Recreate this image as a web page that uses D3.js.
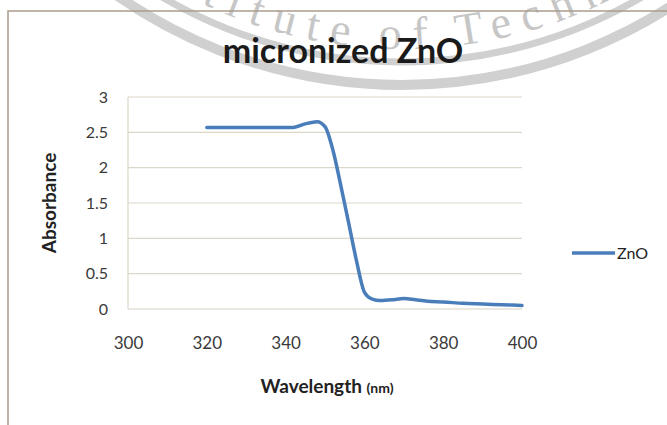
<!DOCTYPE html>
<html>
<head>
<meta charset="utf-8">
<script src="https://cdn.jsdelivr.net/npm/d3@7"></script>
<style>
  html, body { margin: 0; padding: 0; background: #ffffff; }
  svg { display: block; }
</style>
</head>
<body>
<svg id="chart" width="667" height="425"></svg>
<script>
// UV-Vis absorbance spectrum of micronized ZnO
const wavelength = [320, 330, 340, 342, 345, 348, 350, 352, 354, 356, 358, 360, 362, 364, 367, 370, 373, 376, 380, 385, 390, 395, 400];
const absorbance = [2.57, 2.57, 2.57, 2.57, 2.62, 2.65, 2.58, 2.25, 1.75, 1.22, 0.68, 0.24, 0.14, 0.12, 0.13, 0.15, 0.13, 0.11, 0.10, 0.08, 0.07, 0.06, 0.05];
const xTicks = [300, 320, 340, 360, 380, 400];
const yTicks = [0, 0.5, 1, 1.5, 2, 2.5, 3];
const seriesName = "ZnO";
const chartTitle = "micronized ZnO";
const xTitle = "Wavelength";
const xUnit = "(nm)";
const yTitle = "Absorbance";
const sealText = "Institute of Technology";

const svg = d3.select("#chart");
const font = "Lato, 'Open Sans', sans-serif";

const plot = { left: 128, right: 522, top: 97, bottom: 309 };
const x = d3.scaleLinear().domain([300, 400]).range([plot.left, plot.right]);
const y = d3.scaleLinear().domain([0, 3]).range([plot.bottom, plot.top]);

// faint circular seal in the background
const seal = { cx: 402, cy: -413 };
const wm = svg.append("g").attr("class", "seal");
[{ r: 498, w: 10 }, { r: 475, w: 7 }].forEach(b => {
  wm.append("circle")
    .attr("cx", seal.cx).attr("cy", seal.cy).attr("r", b.r)
    .attr("fill", "none").attr("stroke", "#d0d0d0").attr("stroke-width", b.w);
});
const rText = 462;
const a0 = 170 * Math.PI / 180, a1 = 10 * Math.PI / 180;
const p0 = [seal.cx + rText * Math.cos(a0), seal.cy + rText * Math.sin(a0)];
const p1 = [seal.cx + rText * Math.cos(a1), seal.cy + rText * Math.sin(a1)];
svg.append("defs").append("path")
  .attr("id", "sealPath")
  .attr("d", `M${p0[0]},${p0[1]} A${rText},${rText} 0 0 0 ${p1[0]},${p1[1]}`);
wm.append("text")
  .attr("font-family", "'Liberation Serif', 'DejaVu Serif', serif")
  .attr("font-size", 46)
  .attr("letter-spacing", 12)
  .attr("word-spacing", -6)
  .attr("fill", "#c6c6c6")
  .append("textPath")
  .attr("href", "#sealPath")
  .attr("startOffset", 345)
  .text(sealText);

// chart frame
svg.append("rect")
  .attr("x", 8).attr("y", 11).attr("width", 700).attr("height", 500)
  .attr("fill", "none").attr("stroke", "#a99c8e").attr("stroke-width", 1.5);

// title
svg.append("text")
  .attr("x", 343).attr("y", 63)
  .attr("text-anchor", "middle")
  .attr("font-family", font).attr("font-weight", 700).attr("font-size", 34)
  .attr("fill", "#1a1a1a")
  .text(chartTitle);

// horizontal gridlines
svg.append("g").selectAll("line")
  .data(yTicks.filter(d => d > 0))
  .join("line")
  .attr("x1", plot.left).attr("x2", plot.right)
  .attr("y1", d => y(d)).attr("y2", d => y(d))
  .attr("stroke", "#dcd8c8").attr("stroke-width", 1.2);

// axes lines
svg.append("line")
  .attr("x1", plot.left).attr("x2", plot.left)
  .attr("y1", plot.top).attr("y2", plot.bottom)
  .attr("stroke", "#dcd8c8").attr("stroke-width", 1.2);
svg.append("line")
  .attr("x1", plot.left).attr("x2", plot.right)
  .attr("y1", plot.bottom).attr("y2", plot.bottom)
  .attr("stroke", "#d6d2c2").attr("stroke-width", 1.2);

// y tick labels
const yAxis = d3.axisLeft(y).tickValues(yTicks).tickSize(0).tickPadding(20).tickFormat(d3.format("~g"));
const gy = svg.append("g").attr("transform", `translate(${plot.left},0)`).call(yAxis);
gy.select(".domain").remove();
gy.selectAll("text")
  .attr("font-family", font).attr("font-size", 16).attr("fill", "#3a3a3a");

// x tick labels
const xAxis = d3.axisBottom(x).tickValues(xTicks).tickSize(0).tickPadding(28);
const gx = svg.append("g").attr("transform", `translate(0,${plot.bottom})`).call(xAxis);
gx.select(".domain").remove();
gx.selectAll("text")
  .attr("font-family", font).attr("font-size", 17).attr("fill", "#3a3a3a");

// axis titles
svg.append("text")
  .attr("transform", "translate(56,203) rotate(-90)")
  .attr("text-anchor", "middle")
  .attr("font-family", font).attr("font-weight", 700).attr("font-size", 19)
  .attr("fill", "#222")
  .text(yTitle);

const xt = svg.append("text")
  .attr("x", 327).attr("y", 393)
  .attr("text-anchor", "middle")
  .attr("font-family", font).attr("font-weight", 700).attr("fill", "#222");
xt.append("tspan").attr("font-size", 19).text(xTitle + " ");
xt.append("tspan").attr("font-size", 14).text(xUnit);

// spectrum line
const data = wavelength.map((w, i) => ({ w, a: absorbance[i] }));
const line = d3.line().x(d => x(d.w)).y(d => y(d.a)).curve(d3.curveMonotoneX);
svg.append("path")
  .datum(data)
  .attr("d", line)
  .attr("fill", "none")
  .attr("stroke", "#4a7ebb")
  .attr("stroke-width", 3.5)
  .attr("stroke-linejoin", "round")
  .attr("stroke-linecap", "round");

// legend
svg.append("line")
  .attr("x1", 572).attr("x2", 615).attr("y1", 253).attr("y2", 253)
  .attr("stroke", "#4a7ebb").attr("stroke-width", 3.5);
svg.append("text")
  .attr("x", 617).attr("y", 259)
  .attr("font-family", font).attr("font-size", 16).attr("fill", "#222")
  .text(seriesName);
</script>
</body>
</html>
